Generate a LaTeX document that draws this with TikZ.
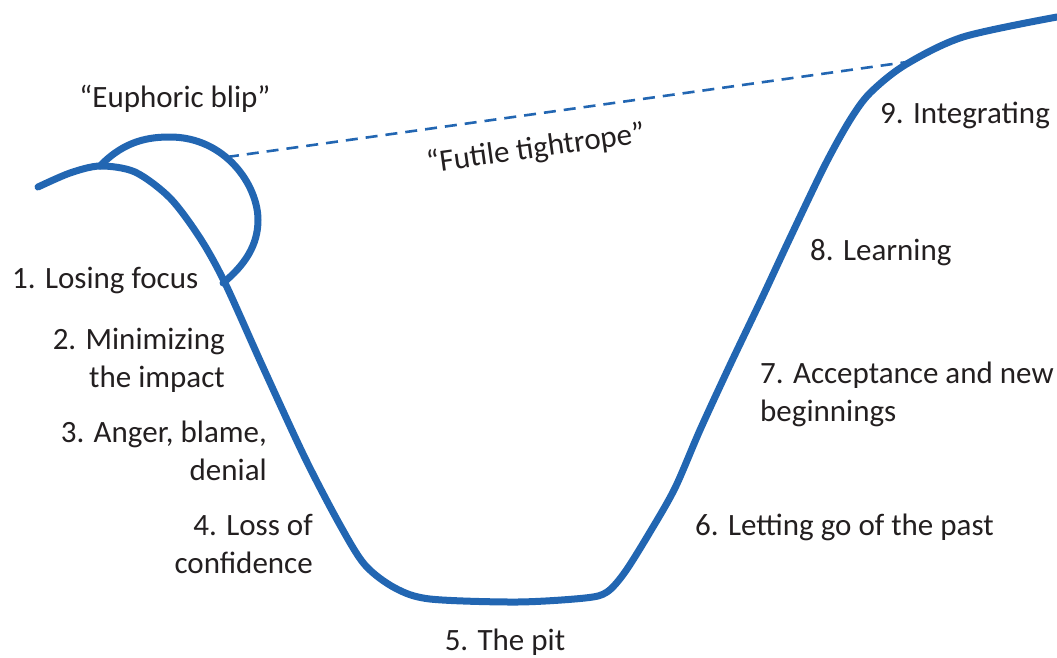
\documentclass[tikz,border=0pt]{standalone}
\usepackage{fontspec}
\setmainfont{Carlito}
\usetikzlibrary{positioning}
\definecolor{curveblue}{RGB}{34,102,178}
\definecolor{labelgray}{RGB}{35,31,32}
\tikzset{
x=1pt, y=-1pt,
curve/.style={draw=curveblue, line width=7pt, line cap=round, line join=round}, % the change curve
rope/.style={draw=curveblue, line width=2.6pt, dash pattern=on 12pt off 8pt}, % the dashed tightrope
stage/.style={inner sep=0pt, text=labelgray, font=\fontsize{31}{38}\selectfont}, % sets the properties for each label
}

\begin{document}
\begin{tikzpicture}
\useasboundingbox (0,0) rectangle (1057,657);
\draw[curve] plot[smooth, tension=0.5] coordinates {
(38,187) (70,173) (100,166) (135,172) (170,198) (200,238) (225,283) (262,365) (305,458) (340,525) (365,565) (395,588) (430,599) (517,602) (585,598) (607,592) (625,572) (650,532) (675,488) (700,430) (730,365) (762,298) (790,238) (825,165) (850,120) (870,93) (905,65) (963,37) (1057,17)};
\draw[curve] (100,166) .. controls (125,140) and (150,137) .. (170,137) .. controls (225,137) and (258,185) .. (258,220) .. controls (258,245) and (245,265) .. (223,283);
\coordinate (blip) at (227,157);
\coordinate (rejoin) at (907,62);
\draw[rope] (blip) -- (rejoin);

\node[stage, anchor=base] at (175,107) (E) {“Euphoric blip”};
\node[stage, anchor=base west, rotate=8] at (428,173) (T) {“Futile tightrope”};
\node[stage, anchor=base west] at (12,288) (L1) {1. Losing focus};
% multi-line labels: base sits on the last line
\node[stage, anchor=base east, align=right] at (225,387) (L2) {2. Minimizing\\the impact};
\node[stage, anchor=base east, align=right] at (267,480) (L3) {3. Anger, blame,\\denial};
\node[stage, anchor=base east, align=right] at (313,573) (L4) {4. Loss of\\confidence};
\node[stage, anchor=base] at (505,650) (L5) {5. The pit};
\node[stage, anchor=base west] at (695,535) (L6) {6. Letting go of the past};
\node[stage, anchor=base west, align=left] at (760,421) (L7) {7. Acceptance and new\\beginnings};
\node[stage, anchor=base west] at (810,260) (L8) {8. Learning};
\node[stage, anchor=base west] at (880,123) (L9) {9. Integrating};

\end{tikzpicture}
\end{document}
